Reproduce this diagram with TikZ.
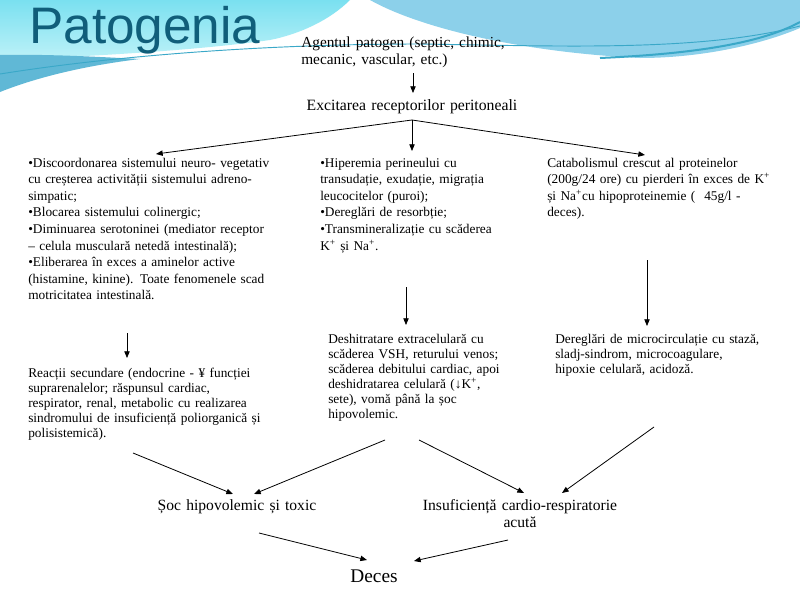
\documentclass[tikz,border=0pt]{standalone}
\usepackage{fontspec}
\setmainfont{Liberation Serif}
\newfontfamily\titlefont{Liberation Sans}
\usetikzlibrary{arrows.meta}
\definecolor{titleblue}{RGB}{16,94,122}
\definecolor{cyantop}{RGB}{122,224,240}
\definecolor{cyanlow}{RGB}{190,242,248}
\definecolor{bandblue}{RGB}{96,184,214}
\definecolor{skyblue}{RGB}{140,208,234}
\definecolor{tealline}{RGB}{58,168,200}
\begin{document}
\begin{tikzpicture}[x=0.75pt,y=-0.75pt,
  txt/.style={anchor=base west,inner sep=0pt,align=left,text width=#1,font=\fontsize{10}{12.45}\selectfont},
  txt/.default=220pt,
  lowtxt/.style={txt=#1,font=\fontsize{10}{11.25}\selectfont},
  lowtxt/.default=220pt,
  label/.style={anchor=base,inner sep=0pt,align=center,text width=200pt,font=\fontsize{11.7}{12.75}\selectfont},
  arr/.style={-{Triangle[length=5pt,width=4pt]},line width=0.6pt}]
\useasboundingbox (0,0) rectangle (800,600);
\fill[white] (0,0) rectangle (800,600);
% background waves
\shade[top color=cyantop,bottom color=cyanlow] (0,0) -- (350,0) .. controls (330,20) and (300,34) .. (270,40) .. controls (200,50) and (100,56) .. (0,60) -- cycle;
\fill[bandblue] (0,55) .. controls (50,54) and (100,57) .. (140,59) .. controls (90,65) and (40,76) .. (0,92) -- cycle;
\fill[skyblue] (370,0) -- (800,0) -- (800,28) .. controls (760,45) and (700,58) .. (640,58) .. controls (520,52) and (420,28) .. (370,0) -- cycle;
\draw[tealline,line width=0.7pt] (0,74) .. controls (100,58) and (250,44) .. (420,44) .. controls (560,46) and (700,52) .. (800,26);
\draw[tealline,line width=1.5pt] (600,58) .. controls (690,54) and (760,44) .. (800,22);
% title
\node[anchor=base west,inner sep=0pt,text=titleblue,font=\titlefont\fontsize{38.5}{40}\selectfont] (title) at (29,43) {Patogenia};
% texts
\node[txt=180pt,font=\fontsize{11.5}{12.75}\selectfont] (agent) at (301,47) {Agentul patogen (septic, chimic,\\mecanic, vascular, etc.)};
\node[label,font=\fontsize{11.8}{13}\selectfont] (excit) at (412,110) {Excitarea receptorilor peritoneali};
\node[txt=230pt] (neuro) at (28,167) {•Discoordonarea sistemului neuro- vegetativ\\
cu creșterea activității sistemului adreno-\\
simpatic;\\
•Blocarea sistemului colinergic;\\
•Diminuarea serotoninei (mediator receptor\\
– celula musculară netedă intestinală);\\
•Eliberarea în exces a aminelor active\\
(histamine, kinine). Toate fenomenele scad\\
motricitatea intestinală.};
\node[txt=170pt] (hiper) at (320,167) {•Hiperemia perineului cu\\
transudație, exudație, migrația\\
leucocitelor (puroi);\\
•Dereglări de resorbție;\\
•Transmineralizație cu scăderea\\
K\textsuperscript{+} și Na\textsuperscript{+}.};
\node[txt=190pt] (catab) at (547,167) {Catabolismul crescut al proteinelor\\
(200g/24 ore) cu pierderi în exces de K\textsuperscript{+}\\
și Na\textsuperscript{+}cu hipoproteinemie (\ \ 45g/l -\\
deces).};
\node[lowtxt=230pt] (react) at (28,377) {Reacții secundare (endocrine - ¥ funcției\\
suprarenalelor; răspunsul cardiac,\\
respirator, renal, metabolic cu realizarea\\
sindromului de insuficiență poliorganică și\\
polisistemică).};
\node[lowtxt=170pt] (deshi) at (328,343) {Deshitratare extracelulară cu\\
scăderea VSH, returului venos;\\
scăderea debitului cardiac, apoi\\
deshidratarea celulară (↓K\textsuperscript{+},\\
sete), vomă până la șoc\\
hipovolemic.};
\node[lowtxt=190pt] (micro) at (555,343) {Dereglări de microcirculație cu stază,\\
sladj-sindrom, microcoagulare,\\
hipoxie celulară, acidoză.};
\node[label] (soc) at (237,510) {Șoc hipovolemic și toxic};
\node[label] (insuf) at (520,510) {Insuficiență cardio-respiratorie\\acută};
\node[label,font=\fontsize{14.5}{16}\selectfont] (deces) at (374,582) {Deces};
% free ends of the connectors
\coordinate (agentout) at (413,73);
\coordinate (excitin) at (413,93);
\coordinate (fork) at (412,120);
\coordinate (neuroin) at (156,154);
\coordinate (hiperin) at (412,151);
\coordinate (catabin) at (645,155);
\coordinate (neuroout) at (127,333);
\coordinate (reactin) at (127,358);
\coordinate (hiperout) at (406,287);
\coordinate (deshiin) at (406,325);
\coordinate (catabout) at (647,260);
\coordinate (microin) at (647,326);
\coordinate (reactout) at (133,453);
\coordinate (deshioutl) at (385,440);
\coordinate (deshioutr) at (419,440);
\coordinate (microout) at (654,427);
\coordinate (socinl) at (233,494);
\coordinate (socinr) at (254,494);
\coordinate (insufinl) at (524,493);
\coordinate (insufinr) at (562,493);
\coordinate (socout) at (259,533);
\coordinate (insufout) at (508,540);
\coordinate (decesinl) at (367,560);
\coordinate (decesinr) at (414,561);
% connectors
\draw[arr] (agentout) -- (excitin);
\foreach \dst in {neuroin,hiperin,catabin} \draw[arr] (fork) -- (\dst);
\draw[arr] (neuroout) -- (reactin);
\draw[arr] (hiperout) -- (deshiin);
\draw[arr] (catabout) -- (microin);
\draw[arr] (reactout) -- (socinl);
\draw[arr] (deshioutl) -- (socinr);
\draw[arr] (deshioutr) -- (insufinl);
\draw[arr] (microout) -- (insufinr);
\draw[arr] (socout) -- (decesinl);
\draw[arr] (insufout) -- (decesinr);
\end{tikzpicture}
\end{document}
